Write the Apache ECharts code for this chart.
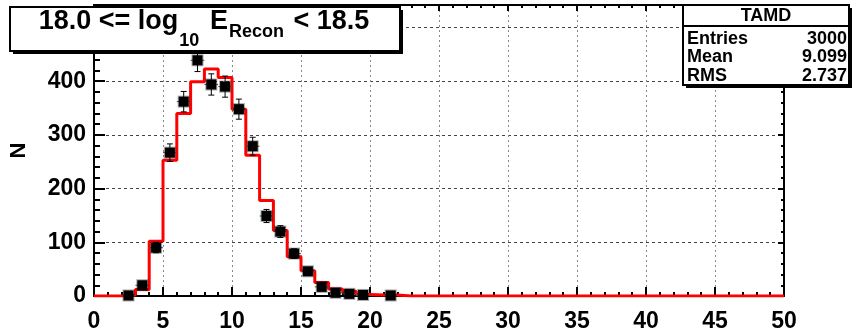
<!DOCTYPE html>
<html>
<head>
<meta charset="utf-8">
<script src="https://cdn.jsdelivr.net/npm/echarts@6/dist/echarts.min.js"></script>
<style>
  html, body { margin: 0; padding: 0; background: #fff; }
  #chart { width: 852px; height: 333px; }
</style>
</head>
<body>
<div id="chart"></div>
<script>
// Histogram bins: lower edges 0..49, unit width
const binLowEdges = Array.from({ length: 50 }, (_, i) => i);
// Reference histogram contents per bin (red step line)
const histCounts = [
  0, 0, 2, 12, 102, 253, 340, 399, 423, 407,
  348, 262, 178, 122, 73, 47, 25, 13, 9, 3,
  2, 2, 0, 0, 0, 0, 0, 0, 0, 0,
  0, 0, 0, 0, 0, 0, 0, 0, 0, 0,
  0, 0, 0, 0, 0, 0, 0, 0, 0, 0
];
// Data points: bin centres, counts and statistical errors
const pointCenters = [2.5, 3.5, 4.5, 5.5, 6.5, 7.5, 8.5, 9.5, 10.5, 11.5, 12.5, 13.5, 14.5, 15.5, 16.5, 17.5, 18.5, 19.5, 21.5];
const pointCounts  = [1, 20, 90, 267, 362, 439, 394, 390, 348, 279, 149, 120, 79, 46, 17, 6, 4, 2, 1];
const pointErrors  = [1, 4.5, 9.5, 16.3, 19, 21, 19.8, 19.7, 18.7, 16.7, 12.2, 11, 8.9, 6.8, 4.1, 2.4, 2, 1.4, 1];
// Axis ticks
const xTicks = [0, 5, 10, 15, 20, 25, 30, 35, 40, 45, 50];
const yTicks = [0, 100, 200, 300, 400];
// Stats panel
const statsTitle = 'TAMD';
const statsNames = ['Entries', 'Mean', 'RMS'];
const statsValues = ['3000', '9.099', '2.737'];

const X_MIN = xTicks[0], X_MAX = xTicks[xTicks.length - 1];
const Y_MAX = 542;

// Step line through bin edges
const stepData = binLowEdges.map((x, i) => [x, histCounts[i]]);
stepData.push([X_MAX, histCounts[histCounts.length - 1]]);

const pointData = pointCenters.map((x, i) => [x, pointCounts[i], pointErrors[i]]);

const FONT = '"Liberation Sans", Arial, sans-serif';

const chart = echarts.init(document.getElementById('chart'), null, { renderer: 'canvas' });

chart.setOption({
  animation: false,
  backgroundColor: '#ffffff',
  grid: { left: 89, right: 68, top: 5, bottom: 35, containLabel: false },
  xAxis: [
    {
      type: 'value', min: X_MIN, max: X_MAX, interval: 5,
      axisLine: { show: true, onZero: false, lineStyle: { color: '#000', width: 2 } },
      axisTick: { show: true, inside: true, length: 9, lineStyle: { color: '#000', width: 2 } },
      minorTick: { show: true, splitNumber: 5, length: 4, lineStyle: { color: '#000', width: 2 } },
      axisLabel: {
        show: true, margin: 14, color: '#000',
        fontFamily: FONT, fontWeight: 'bold', fontSize: 23,
        formatter: v => (xTicks.includes(v) ? String(v) : '')
      },
      splitLine: { show: true, lineStyle: { color: '#888', width: 1, type: [2, 3] } }
    },
    {
      type: 'value', min: X_MIN, max: X_MAX, interval: 5, position: 'top',
      axisLine: { show: true, onZero: false, lineStyle: { color: '#000', width: 2 } },
      axisTick: { show: true, inside: true, length: 6, lineStyle: { color: '#000', width: 2 } },
      minorTick: { show: true, splitNumber: 5, length: 3, lineStyle: { color: '#000', width: 2 } },
      axisLabel: { show: false },
      splitLine: { show: false }
    }
  ],
  yAxis: [
    {
      type: 'value', min: 0, max: Y_MAX, interval: 100,
      name: 'N', nameLocation: 'middle', nameGap: 64, nameRotate: 90,
      nameTextStyle: { color: '#000', fontFamily: FONT, fontWeight: 'bold', fontSize: 22 },
      axisLine: { show: true, onZero: false, lineStyle: { color: '#000', width: 2 } },
      axisTick: { show: true, inside: true, length: 11, lineStyle: { color: '#000', width: 2 } },
      minorTick: { show: true, splitNumber: 5, length: 6, lineStyle: { color: '#000', width: 2 } },
      axisLabel: {
        show: true, margin: 8, color: '#000',
        fontFamily: FONT, fontWeight: 'bold', fontSize: 23,
        formatter: v => (yTicks.includes(v) ? String(v) : '')
      },
      splitLine: { show: true, lineStyle: { color: '#444', width: 1, type: [3, 3] } }
    },
    {
      type: 'value', min: 0, max: Y_MAX, interval: 100, position: 'right',
      axisLine: { show: true, onZero: false, lineStyle: { color: '#000', width: 2 } },
      axisTick: { show: true, inside: true, length: 6, lineStyle: { color: '#000', width: 2 } },
      minorTick: { show: true, splitNumber: 5, length: 3, lineStyle: { color: '#000', width: 2 } },
      axisLabel: { show: false },
      splitLine: { show: false }
    }
  ],
  series: [
    {
      name: 'hist',
      type: 'line',
      step: 'end',
      data: stepData,
      symbol: 'none',
      lineStyle: { color: '#ff0000', width: 3 },
      z: 3
    },
    {
      name: 'points',
      type: 'custom',
      data: pointData,
      z: 4,
      renderItem: function (params, api) {
        const x = api.value(0), y = api.value(1), e = api.value(2);
        const c = api.coord([x, y]);
        const top = api.coord([x, y + e]);
        const bot = api.coord([x, Math.max(0, y - e)]);
        const left = api.coord([x - 0.5, y]);
        const right = api.coord([x + 0.5, y]);
        const cap = 3, s = 10;
        const black = { stroke: '#000', lineWidth: 1 };
        return {
          type: 'group',
          children: [
            { type: 'line', shape: { x1: left[0], y1: c[1], x2: right[0], y2: c[1] }, style: { stroke: '#555', lineWidth: 1 } },
            { type: 'line', shape: { x1: c[0], y1: top[1], x2: c[0], y2: bot[1] }, style: black },
            { type: 'line', shape: { x1: c[0] - cap, y1: top[1], x2: c[0] + cap, y2: top[1] }, style: black },
            { type: 'line', shape: { x1: c[0] - cap, y1: bot[1], x2: c[0] + cap, y2: bot[1] }, style: black },
            { type: 'rect', shape: { x: c[0] - s / 2 - 1, y: c[1] - s / 2 - 1, width: s + 2, height: s + 2 }, style: { fill: 'rgba(0,0,0,0.35)' } },
            { type: 'rect', shape: { x: c[0] - s / 2, y: c[1] - s / 2, width: s, height: s }, style: { fill: '#000' } }
          ]
        };
      }
    }
  ],
  graphic: [
    // Title pave with drop shadow
    { type: 'rect', z: 100, shape: { x: 13, y: 10, width: 390, height: 44 }, style: { fill: '#000' } },
    { type: 'rect', z: 101, shape: { x: 10, y: 7, width: 390, height: 44 }, style: { fill: '#fff', stroke: '#000', lineWidth: 2 } },
    {
      type: 'text', z: 102, x: 204, y: 8,
      style: {
        text: '{m|18.0 <= log}{s1|10}{m| E}{s2|Recon}{m| < 18.5}',
        align: 'center', verticalAlign: 'top',
        rich: {
          m:  { fontFamily: FONT, fontWeight: 'bold', fontSize: 27, lineHeight: 28, fill: '#000', verticalAlign: 'top' },
          s1: { fontFamily: FONT, fontWeight: 'bold', fontSize: 18, lineHeight: 19, padding: [24, 3, 0, 1], fill: '#000', verticalAlign: 'top' },
          s2: { fontFamily: FONT, fontWeight: 'bold', fontSize: 18, lineHeight: 19, padding: [15, 2, 0, 1], fill: '#000', verticalAlign: 'top' }
        }
      }
    },
    // Stats pave
    { type: 'rect', z: 100, shape: { x: 686, y: 8, width: 166, height: 80 }, style: { fill: '#000' } },
    { type: 'rect', z: 101, shape: { x: 683, y: 5, width: 166, height: 80 }, style: { fill: '#fff', stroke: '#000', lineWidth: 2 } },
    { type: 'line', z: 102, shape: { x1: 683, y1: 26, x2: 849, y2: 26 }, style: { stroke: '#000', lineWidth: 2 } },
    {
      type: 'text', z: 102, x: 766, y: 16,
      style: { text: statsTitle, align: 'center', verticalAlign: 'middle', fontFamily: FONT, fontWeight: 'bold', fontSize: 18, fill: '#000' }
    },
    ...statsNames.map((name, i) => ({
      type: 'text', z: 102, x: 687, y: 39 + i * 18.5,
      style: { text: name, align: 'left', verticalAlign: 'middle', fontFamily: FONT, fontWeight: 'bold', fontSize: 18, fill: '#000' }
    })),
    ...statsValues.map((val, i) => ({
      type: 'text', z: 102, x: 847, y: 39 + i * 18.5,
      style: { text: val, align: 'right', verticalAlign: 'middle', fontFamily: FONT, fontWeight: 'bold', fontSize: 18, fill: '#000' }
    }))
  ]
});
</script>
</body>
</html>
